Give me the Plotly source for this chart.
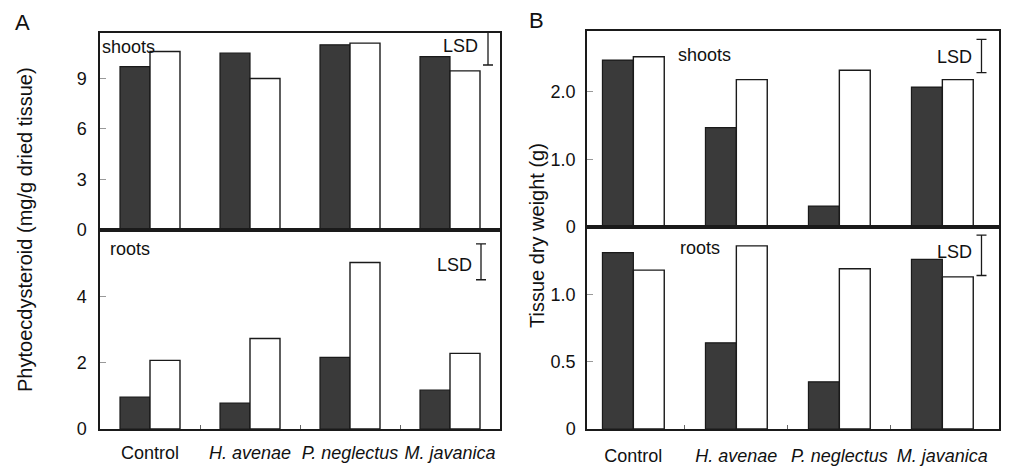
import plotly.graph_objects as go

W, H = 1021, 468

categories = ["Control", "<i>H. avenae</i>", "<i>P. neglectus</i>", "<i>M. javanica</i>"]
cat_x = [0, 1, 2, 3]

# Panel A: phytoecdysteroid (mg/g dried tissue)
a_shoots_dark = [9.7, 10.5, 11.0, 10.3]
a_shoots_white = [10.6, 9.0, 11.1, 9.45]
a_roots_dark = [0.96, 0.78, 2.16, 1.17]
a_roots_white = [2.07, 2.73, 5.02, 2.28]

# Panel B: tissue dry weight (g)
b_shoots_dark = [2.47, 1.47, 0.31, 2.07]
b_shoots_white = [2.52, 2.18, 2.32, 2.18]
b_roots_dark = [1.31, 0.64, 0.35, 1.26]
b_roots_white = [1.18, 1.36, 1.19, 1.13]

# LSD bars: (centre value, full length)
lsd_a_shoots = (10.8, 2.0)
lsd_a_roots = (5.04, 1.08)
lsd_b_shoots = (2.53, 0.49)
lsd_b_roots = (1.29, 0.30)

# y ticks
a_shoots_ticks = [0, 3, 6, 9]
a_roots_ticks = [0, 2, 4]
b_shoots_ticks = [0, 1.0, 2.0]
b_shoots_ticktext = ["0", "1.0", "2.0"]
b_roots_ticks = [0, 0.5, 1.0]
b_roots_ticktext = ["0", "0.5", "1.0"]

DARK = "#3a3a3a"
LINE = "#1a1a1a"
FONT = "Liberation Sans, Arial, sans-serif"


def px(xp):
    return xp / W


def py(yp):
    return 1 - yp / H


fig = go.Figure()

panels = [
    ("x", "y", a_shoots_dark, a_shoots_white),
    ("x2", "y2", a_roots_dark, a_roots_white),
    ("x3", "y3", b_shoots_dark, b_shoots_white),
    ("x4", "y4", b_roots_dark, b_roots_white),
]
for xa, ya, dark, white in panels:
    fig.add_trace(go.Bar(x=cat_x, y=dark, xaxis=xa, yaxis=ya,
                         marker=dict(color=DARK, line=dict(color=LINE, width=1.2)),
                         offsetgroup="d", showlegend=False))
    fig.add_trace(go.Bar(x=cat_x, y=white, xaxis=xa, yaxis=ya,
                         marker=dict(color="white", line=dict(color=LINE, width=1.4)),
                         offsetgroup="w", showlegend=False))

lsds = [("x", "y", lsd_a_shoots, 3.38), ("x2", "y2", lsd_a_roots, 3.31),
        ("x3", "y3", lsd_b_shoots, 3.38), ("x4", "y4", lsd_b_roots, 3.38)]
for xa, ya, (c, L), xpos in lsds:
    fig.add_trace(go.Scatter(x=[xpos], y=[c], xaxis=xa, yaxis=ya, mode="markers",
                             marker=dict(size=1, color="rgba(0,0,0,0)"),
                             error_y=dict(type="data", array=[L / 2], color=LINE,
                                          thickness=1.3, width=5),
                             showlegend=False, hoverinfo="skip"))

common_x = dict(showline=True, mirror=True, linecolor=LINE, linewidth=1.5,
                showgrid=False, zeroline=False, tickvals=cat_x, ticktext=categories,
                ticks="", automargin=False,
                tickfont=dict(size=18, color="#111", family=FONT))
common_y = dict(showline=True, mirror=True, linecolor=LINE, linewidth=1.5,
                showgrid=False, zeroline=False, ticks="inside", ticklen=6,
                tickcolor="#999", tickwidth=1, automargin=False,
                tickfont=dict(size=18, color="#111", family=FONT))

minor = dict(tickvals=[0.5, 1.5, 2.5], ticks="inside", ticklen=4,
             tickcolor="#666", showgrid=False)

dA = [px(100), px(500)]
dB = [px(587), px(999)]

fig.update_layout(
    width=W, height=H, autosize=False, margin=dict(l=0, r=0, t=0, b=0),
    paper_bgcolor="white", plot_bgcolor="white",
    barmode="group", bargap=0.4, bargroupgap=0,
    font=dict(family=FONT, color="#111"),
    xaxis=dict(common_x, domain=dA, range=[-0.5, 3.5], anchor="y", showticklabels=False),
    xaxis2=dict(common_x, domain=dA, range=[-0.5, 3.5], anchor="y2", minor=minor,
                ticklabelstandoff=7),
    xaxis3=dict(common_x, domain=dB, range=[-0.45, 3.55], anchor="y3", showticklabels=False),
    xaxis4=dict(common_x, domain=dB, range=[-0.45, 3.55], anchor="y4", minor=minor,
                ticklabelstandoff=10),
    yaxis=dict(common_y, domain=[py(230), py(33)], range=[0, 11.7], anchor="x",
               tickvals=a_shoots_ticks, ticklabelstandoff=8),
    yaxis2=dict(common_y, domain=[py(429), py(230)], range=[0, 6.0], anchor="x2",
                tickvals=a_roots_ticks, ticklabelstandoff=8),
    yaxis3=dict(common_y, domain=[py(227), py(31)], range=[0, 2.9], anchor="x3",
                tickvals=b_shoots_ticks, ticktext=b_shoots_ticktext, ticklabelstandoff=6),
    yaxis4=dict(common_y, domain=[py(429), py(227)], range=[0, 1.5], anchor="x4",
                tickvals=b_roots_ticks, ticktext=b_roots_ticktext, ticklabelstandoff=6),
)

ann = [
    ("A", 22, 22, 22, 0),
    ("B", 536, 21, 22, 0),
    ("shoots", 128, 47, 18, 0),
    ("roots", 130, 249, 18, 0),
    ("shoots", 704, 55, 18, 0),
    ("roots", 700, 248, 18, 0),
    ("LSD", 460, 46, 18, 0),
    ("LSD", 454, 265, 18, 0),
    ("LSD", 954, 57, 18, 0),
    ("LSD", 954, 252, 18, 0),
    ("Phytoecdysteroid (mg/g dried tissue)", 25, 230, 20, -90),
    ("Tissue dry weight (g)", 537, 236, 20, -90),
]
for text, xp, yp, size, ang in ann:
    fig.add_annotation(text=text, x=px(xp), y=py(yp), xref="paper", yref="paper",
                       showarrow=False, textangle=ang, xanchor="center", yanchor="middle",
                       font=dict(size=size, color="#111", family=FONT))

fig.write_html("out.html")
